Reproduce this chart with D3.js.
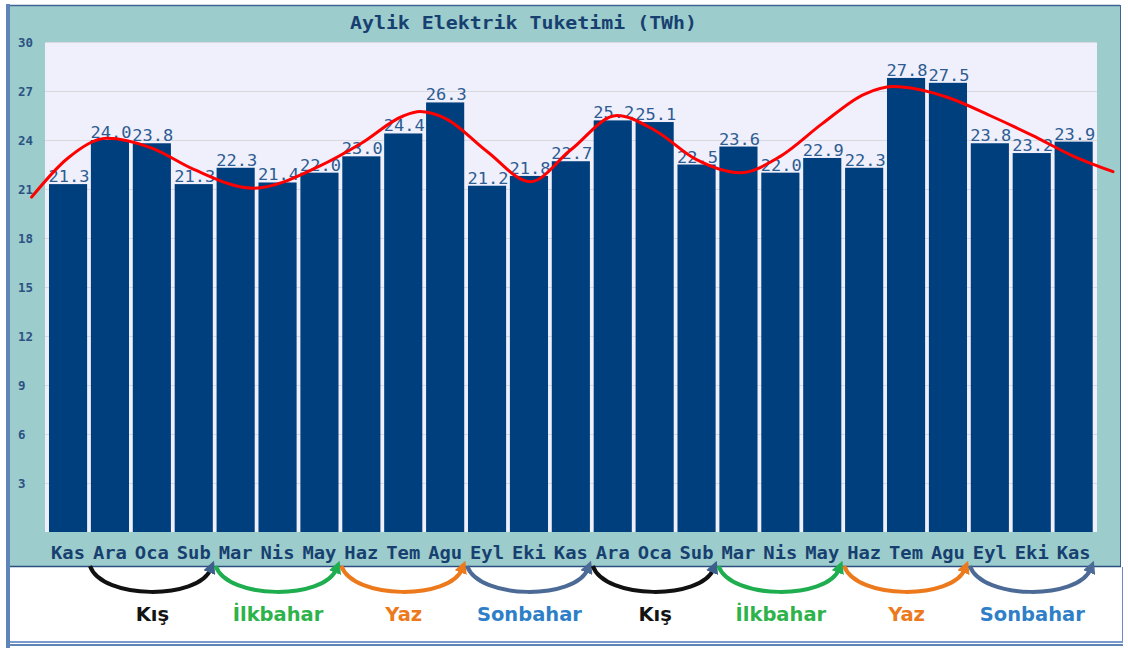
<!DOCTYPE html>
<html>
<head>
<meta charset="utf-8">
<script src="https://cdn.jsdelivr.net/npm/d3@7/dist/d3.min.js"></script>
<style>
  html, body { margin: 0; padding: 0; background: #ffffff; }
  svg { display: block; }
</style>
</head>
<body>
<svg id="chart" width="1128" height="648"></svg>
<script>
// ---- data ----
const months = ["Kas","Ara","Oca","Sub","Mar","Nis","May","Haz","Tem","Agu","Eyl","Eki","Kas",
                "Ara","Oca","Sub","Mar","Nis","May","Haz","Tem","Agu","Eyl","Eki","Kas"];
const consumption = [21.3,24.0,23.8,21.3,22.3,21.4,22.0,23.0,24.4,26.3,21.2,21.8,22.7,
                     25.2,25.1,22.5,23.6,22.0,22.9,22.3,27.8,27.5,23.8,23.2,23.9];
const yTicks = [3,6,9,12,15,18,21,24,27,30];
// smooth trend line (position in month index, value)
const trendPos = [-0.87,0,0.93,2,3,4.42,6,7,8,8.4,9,10,11.03,12,13.1,14,15,16.04,17,18,19,19.69,21,22,23,24,24.94];
const trendVal = [20.5,22.9,24.1,23.5,22.2,21.05,22.4,23.8,25.47,25.74,25.33,23.3,21.45,23.4,25.5,24.6,22.8,22.0,23.0,25.0,26.8,27.27,26.6,25.5,24.3,23.0,22.06];
const seasonNames  = ["Kış","İlkbahar","Yaz","Sonbahar","Kış","İlkbahar","Yaz","Sonbahar"];
const seasonStart  = [1,4,7,10,13,16,19,22];
const seasonArcCol = ["#111111","#1fae4f","#ec7a1c","#4b6a96","#111111","#1fae4f","#ec7a1c","#4b6a96"];
const seasonTxtCol = ["#141414","#2db34a","#ec7a1c","#2f7fc8","#141414","#2db34a","#ec7a1c","#2f7fc8"];
const title = "Aylik Elektrik Tuketimi (TWh)";

// ---- drawing ----
const svg = d3.select("#chart");
const plot = {left: 45, right: 1097, top: 42, bottom: 532};

// frame
svg.append("rect").attr("x", 10).attr("y", 5).attr("width", 1110).attr("height", 561).attr("fill", "#9ccccc");
svg.append("line").attr("x1", 10).attr("x2", 1120).attr("y1", 5.5).attr("y2", 5.5).attr("stroke", "#3e6396").attr("stroke-width", 1.5);
svg.append("line").attr("x1", 1120.5).attr("x2", 1120.5).attr("y1", 5).attr("y2", 566).attr("stroke", "#3e6396").attr("stroke-width", 1);
svg.append("line").attr("x1", 10).attr("x2", 1121).attr("y1", 566.5).attr("y2", 566.5).attr("stroke", "#2a4f80").attr("stroke-width", 1.5);
svg.append("line").attr("x1", 1122.5).attr("x2", 1122.5).attr("y1", 567).attr("y2", 641).attr("stroke", "#6a8cbc").attr("stroke-width", 1);
svg.append("rect").attr("x", 6).attr("y", 4).attr("width", 4).attr("height", 644).attr("fill", "#5f84b8");
svg.append("rect").attr("x", 10).attr("y", 641).attr("width", 1113).attr("height", 2).attr("fill", "#7a9ccc");
svg.append("rect").attr("x", 10).attr("y", 644).attr("width", 1113).attr("height", 2).attr("fill", "#5f84b8");

// plot background
svg.append("rect").attr("x", plot.left).attr("y", plot.top)
  .attr("width", plot.right - plot.left).attr("height", plot.bottom - plot.top)
  .attr("fill", "#f0f0fc");

const x = d3.scaleBand().domain(d3.range(months.length)).range([47.1, 1094.6])
  .paddingInner(0.09).paddingOuter(0.045);
const bw = x.bandwidth();
const y = d3.scaleLinear().domain([0, 30]).range([plot.bottom, plot.top]);
const xi = d3.scaleLinear().domain([0, months.length - 1])
  .range([x(0) + bw / 2, x(months.length - 1) + bw / 2]);

// grid
svg.append("g").selectAll("line").data(yTicks).join("line")
  .attr("x1", plot.left).attr("x2", plot.right)
  .attr("y1", d => Math.round(y(d)) + 0.5).attr("y2", d => Math.round(y(d)) + 0.5)
  .attr("stroke", "#d9d9df").attr("stroke-width", 1);

// y tick labels
svg.append("g").selectAll("text").data(yTicks).join("text")
  .attr("x", 18).attr("y", d => y(d) + 4.5)
  .attr("font-family", "DejaVu Sans Mono").attr("font-weight", "bold").attr("font-size", 12)
  .attr("fill", "#2b5283")
  .attr("textLength", d => String(d).length * 7.5).attr("lengthAdjust", "spacingAndGlyphs")
  .text(d => d);

// bars
svg.append("g").selectAll("rect").data(consumption).join("rect")
  .attr("x", (d, i) => x(i)).attr("width", bw)
  .attr("y", d => y(d)).attr("height", d => y(0) - y(d))
  .attr("fill", "#003f7e");

// x labels
svg.append("g").selectAll("text").data(months).join("text")
  .attr("x", (d, i) => x(i) + bw / 2).attr("y", 559)
  .attr("text-anchor", "middle")
  .attr("font-family", "DejaVu Sans Mono").attr("font-weight", "bold").attr("font-size", 17)
  .attr("fill", "#173f70")
  .attr("textLength", 34).attr("lengthAdjust", "spacingAndGlyphs")
  .text(d => d);

// value labels
svg.append("g").selectAll("text").data(consumption).join("text")
  .attr("x", (d, i) => x(i) + bw / 2 + 1).attr("y", d => y(d) - 2)
  .attr("text-anchor", "middle")
  .attr("font-family", "DejaVu Sans Mono").attr("font-size", 16.5)
  .attr("fill", "#2d5c92")
  .attr("textLength", 41).attr("lengthAdjust", "spacingAndGlyphs")
  .text(d => d.toFixed(1));

// trend line
const trend = trendPos.map((p, i) => [p, trendVal[i]]);
svg.append("path").datum(trend)
  .attr("d", d3.line().x(d => xi(d[0])).y(d => y(d[1])).curve(d3.curveMonotoneX))
  .attr("fill", "none").attr("stroke", "#ff0000").attr("stroke-width", 3)
  .attr("stroke-linecap", "round");

// title
svg.append("text").attr("x", 523.5).attr("y", 29).attr("text-anchor", "middle")
  .attr("font-family", "DejaVu Sans Mono").attr("font-weight", "bold").attr("font-size", 18)
  .attr("fill", "#173f70")
  .attr("textLength", 347).attr("lengthAdjust", "spacingAndGlyphs")
  .text(title);

// season arcs
const defs = svg.append("defs");
seasonArcCol.forEach((c, i) => {
  defs.append("marker").attr("id", "arrow" + i)
    .attr("viewBox", "0 0 10 10").attr("refX", 3).attr("refY", 5)
    .attr("markerWidth", 3.2).attr("markerHeight", 3.2).attr("orient", "auto")
    .append("path").attr("d", "M0,0 L10,5 L0,10 z").attr("fill", i % 4 === 0 ? "#3d5f8c" : c);
});
const gap = x.step() - bw;
const arcs = svg.append("g");
seasonStart.forEach((s, i) => {
  const x0 = x(s) - gap / 2 + 1;
  const x1 = x(s + 2) + bw + gap / 2 - 4;
  const w = x1 - x0;
  arcs.append("path")
    .attr("d", `M${x0},566 C${x0 + 0.1 * w},600 ${x1 - 0.1 * w},600 ${x1},569`)
    .attr("fill", "none").attr("stroke", seasonArcCol[i]).attr("stroke-width", 4)
    .attr("marker-end", `url(#arrow${i})`);
  arcs.append("text")
    .attr("x", (x0 + x1) / 2 + 2).attr("y", 621)
    .attr("text-anchor", "middle")
    .attr("font-family", "DejaVu Sans").attr("font-weight", "bold").attr("font-size", 19.5)
    .attr("fill", seasonTxtCol[i])
    .text(seasonNames[i]);
});
</script>
</body>
</html>
